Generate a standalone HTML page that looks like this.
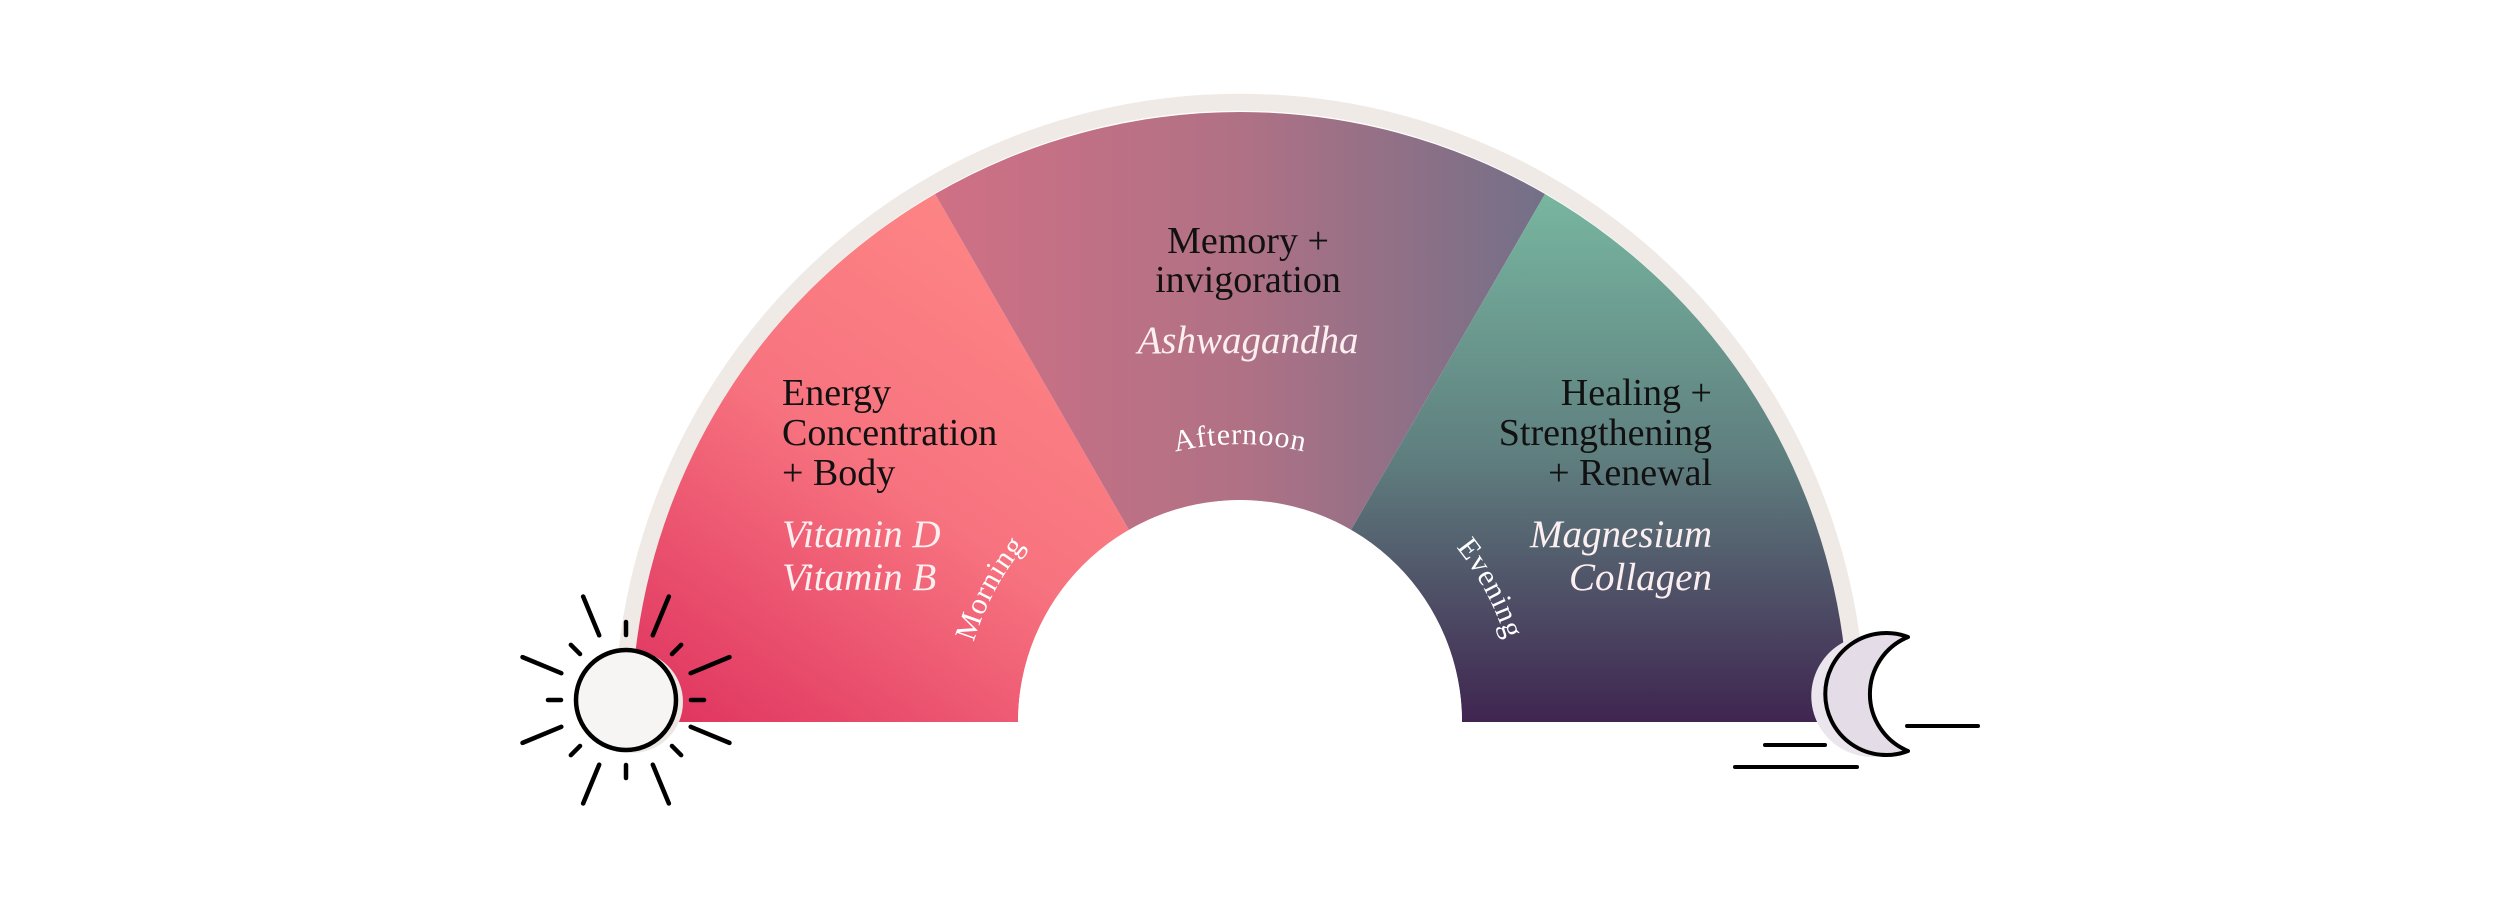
<!DOCTYPE html>
<html><head><meta charset="utf-8"><style>
html,body{margin:0;padding:0;background:#fff;}
svg{display:block;}
text{font-family:"Liberation Serif",serif;}
</style></head><body>
<svg width="2500" height="900" viewBox="0 0 2500 900" xmlns="http://www.w3.org/2000/svg">
<defs>
<linearGradient id="gL" gradientUnits="userSpaceOnUse" x1="1000" y1="220" x2="650" y2="720">
<stop offset="0" stop-color="#fd8585"/><stop offset="0.45" stop-color="#f7737f"/><stop offset="1" stop-color="#df335f"/></linearGradient>
<linearGradient id="gM" gradientUnits="userSpaceOnUse" x1="935" y1="0" x2="1545" y2="0">
<stop offset="0" stop-color="#d07085"/><stop offset="0.5" stop-color="#b07185"/><stop offset="1" stop-color="#737088"/></linearGradient>
<linearGradient id="gR" gradientUnits="userSpaceOnUse" x1="0" y1="190" x2="0" y2="722">
<stop offset="0" stop-color="#78b7a0"/><stop offset="0.5" stop-color="#5f7f7f"/><stop offset="1" stop-color="#3f2550"/></linearGradient>
<path id="arc" d="M 962 722 A 278 278 0 0 1 1518 722"/>
</defs>
<!-- segments -->
<path d="M 630 722 A 610 612 0 0 1 935 194 L 1129 530 A 222 222 0 0 0 1018 722 Z" fill="url(#gL)"/>
<path d="M 935 194 A 610 612 0 0 1 1545 194 L 1351 530 A 222 222 0 0 0 1129 530 Z" fill="url(#gM)"/>
<path d="M 1545 194 A 610 612 0 0 1 1850 722 L 1462 722 A 222 222 0 0 0 1351 530 Z" fill="url(#gR)"/>
<path d="M 1018 722 A 222 222 0 0 1 1462 722 Z" fill="#fff"/>
<!-- ring -->
<path d="M 623 722 A 617 620 0 0 1 1857 722" fill="none" stroke="#efeae5" stroke-width="17"/>
<!-- texts -->
<g font-size="38" fill="#111">
<text x="782" y="405">Energy</text>
<text x="782" y="445">Concentration</text>
<text x="782" y="485">+ Body</text>
<text x="1248" y="253" text-anchor="middle">Memory +</text>
<text x="1248" y="292" text-anchor="middle">invigoration</text>
<text x="1712" y="405" text-anchor="end">Healing +</text>
<text x="1712" y="445" text-anchor="end">Strengthening</text>
<text x="1712" y="485" text-anchor="end">+ Renewal</text>
</g>
<g font-size="39" fill="#fbeff0" font-style="italic">
<text x="782" y="547">Vitamin D</text>
<text x="782" y="590">Vitamin B</text>
<text x="1248" y="353" text-anchor="middle">Ashwagandha</text>
<text x="1712" y="547" text-anchor="end">Magnesium</text>
<text x="1712" y="590" text-anchor="end">Collagen</text>
</g>
<g font-size="30" fill="#fff" letter-spacing="0.8">
<text text-anchor="middle"><textPath href="#arc" startOffset="15.6%">Morning</textPath></text>
<text text-anchor="middle"><textPath href="#arc" startOffset="50%">Afternoon</textPath></text>
<text text-anchor="middle"><textPath href="#arc" startOffset="84.4%">Evening</textPath></text>
</g>
<!-- sun -->
<g transform="translate(626,700)" stroke="#000" stroke-width="4.5" stroke-linecap="round">
<g id="sr">
<line x1="0" y1="-65" x2="0" y2="-78"/>
<line x1="0" y1="-70" x2="0" y2="-112" transform="rotate(22.5)"/>
</g>
<use href="#sr" transform="rotate(45)"/><use href="#sr" transform="rotate(90)"/><use href="#sr" transform="rotate(135)"/>
<use href="#sr" transform="rotate(180)"/><use href="#sr" transform="rotate(225)"/><use href="#sr" transform="rotate(270)"/><use href="#sr" transform="rotate(315)"/>
<circle cx="6" cy="2" r="51" fill="#ece7e2" stroke="none"/>
<circle cx="0" cy="0" r="50" fill="#f7f5f3"/>
</g>
<!-- moon -->
<path d="M 1901 639 A 61 61 0 1 0 1901 753 A 61.7 61.7 0 0 1 1901 639 Z" fill="#ebe6ee" transform="translate(-7,0)"/>
<path d="M 1908 637 A 61 61 0 1 0 1908 751 A 61.7 61.7 0 0 1 1908 637 Z" fill="#e4dde8" stroke="#000" stroke-width="4" stroke-linejoin="round"/>
<g stroke="#000" stroke-width="4" stroke-linecap="round">
<line x1="1765" y1="745" x2="1825" y2="745"/>
<line x1="1735" y1="767" x2="1857" y2="767"/>
<line x1="1907" y1="726" x2="1978" y2="726"/>
</g>
</svg>
</body></html>
